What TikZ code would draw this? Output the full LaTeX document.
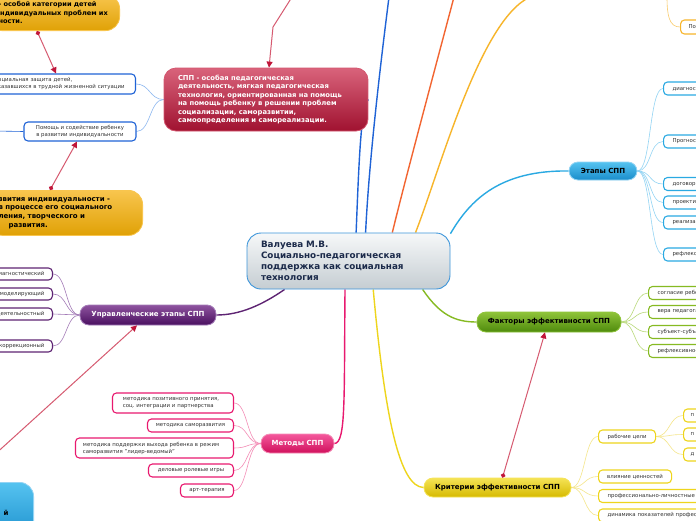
\documentclass[tikz,border=0pt]{standalone}
\usepackage{fontspec}
\setmainfont{DejaVu Sans}
\frenchspacing
\usetikzlibrary{arrows.meta,positioning}
\definecolor{SppNavy}{HTML}{1B2A4A}
\definecolor{SppText}{HTML}{333333}
\definecolor{SppCenTop}{HTML}{F6F8F9}
\definecolor{SppCenBot}{HTML}{C5CDD2}
\definecolor{SppCenBorder}{HTML}{3C95DA}
\definecolor{SppRedTop}{HTML}{D9637B}
\definecolor{SppRedBot}{HTML}{A01230}
\definecolor{SppRedBorder}{HTML}{D4566F}
\definecolor{SppOrTop}{HTML}{F8C54E}
\definecolor{SppOrBot}{HTML}{E0A106}
\definecolor{SppBlueDark}{HTML}{1F63D6}
\definecolor{SppBlueLight}{HTML}{8DB8F0}
\definecolor{SppPurple}{HTML}{5E2473}
\definecolor{SppPurpleTop}{HTML}{8E539F}
\definecolor{SppPurpleBot}{HTML}{4A1060}
\definecolor{SppPurpleLight}{HTML}{A47CB8}
\definecolor{SppPink}{HTML}{E8196F}
\definecolor{SppPinkTop}{HTML}{F4589C}
\definecolor{SppPinkBot}{HTML}{D0105C}
\definecolor{SppPinkLight}{HTML}{F48DB6}
\definecolor{SppYellow}{HTML}{EED51C}
\definecolor{SppYellowTop}{HTML}{F5E356}
\definecolor{SppYellowBot}{HTML}{D6BA00}
\definecolor{SppYellowLight}{HTML}{F5E68A}
\definecolor{SppGreen}{HTML}{86BA22}
\definecolor{SppGreenTop}{HTML}{8FC43A}
\definecolor{SppGreenBot}{HTML}{4E8A0C}
\definecolor{SppGreenLight}{HTML}{B9D97A}
\definecolor{SppSky}{HTML}{2AA9E2}
\definecolor{SppSkyTop}{HTML}{55C3F0}
\definecolor{SppSkyBot}{HTML}{1A8DCB}
\definecolor{SppSkyLight}{HTML}{93D4F4}
\definecolor{SppOrRed}{HTML}{F26531}
\definecolor{SppOrange}{HTML}{F7B52A}
\definecolor{SppRel}{HTML}{D65A70}
\definecolor{SppRelDark}{HTML}{C0163A}
\pgfdeclarelayer{background}
\pgfsetlayers{background,main}
\tikzset{
  spp/central/.style={
    draw=SppCenBorder,
    line width=0.9pt,
    top color=SppCenTop,
    bottom color=SppCenBot,
    rounded corners=14pt,
    minimum width=203pt,
    minimum height=56pt,
    text width=175pt,
    align=left,
    inner sep=0pt,
    text=SppNavy,
    font=\fontsize{8.8}{11}\selectfont\bfseries
  },
  spp/topic/.style={
    rounded corners=9pt,
    align=center,
    inner sep=0pt,
    line width=0.8pt,
    font=\fontsize{7}{8.5}\selectfont\bfseries
  },
  spp/orange/.style={
    spp/topic,
    draw=SppOrTop,
    top color=SppOrTop,
    bottom color=SppOrBot,
    rounded corners=14pt,
    align=left,
    text=black,
    font=\fontsize{7}{8.7}\selectfont\bfseries
  },
  spp/leaf/.style={
    draw,
    fill=white,
    rounded corners=4pt,
    line width=1.1pt,
    inner sep=0pt,
    minimum height=13pt,
    text=SppText,
    font=\fontsize{5.4}{7}\selectfont
  },
  spp/link/.style={line width=0.6pt},
  spp/branch/.style={line width=1.4pt},
  spp/rel/.style={draw=SppRel, line width=1pt,
    {Circle[length=4.5pt,fill=SppRelDark,color=SppRelDark]}-{Triangle[length=6pt,width=6pt,fill=SppRelDark,color=SppRelDark]}},
  spp/relhead/.style={draw=SppRel, line width=1pt,
    -{Triangle[length=6pt,width=6pt,fill=SppRelDark,color=SppRelDark]}}
}
\begin{document}
\begin{tikzpicture}[x=1pt,y=-1pt]
  \useasboundingbox (0,0) rectangle (696,520);
  \clip (0,0) rectangle (696,520);

  % central topic
  \node[spp/central] (cen) at (348.5,261) {Валуева М.В.\\Социально-педагогическая\\поддержка как социальная\\технология};

  % definition block
  \node[spp/topic, draw=SppRedBorder, top color=SppRedTop, bottom color=SppRedBot, text=white,
    rounded corners=12pt, minimum width=204pt, minimum height=63pt, text width=176pt, align=left,
    font=\fontsize{6.8}{8.4}\selectfont\bfseries] (def) at (266,99.5)
    {СПП - особая педагогическая\\деятельность, мягкая педагогическая\\технология, ориентированная на помощь\\на помощь ребенку в решении проблем\\социализации, саморазвитии,\\самоопределения и самореализации.};
  \node[spp/orange, anchor=south east, minimum width=132pt, minimum height=36pt,
    text width=116pt, inner xsep=8pt, font=\fontsize{6.6}{8.5}\selectfont\bfseries] (goal) at (120,31)
    {\hspace*{3pt}- особой категории детей\\индивидуальных проблем их\\\hspace*{3pt}ности.};
  \node[spp/orange, anchor=north east, minimum width=154pt, minimum height=45pt,
    text width=134pt, inner xsep=10pt] (indiv) at (143,190)
    {звития индивидуальности -\\в процессе его социального\\ления, творческого и\\\hspace*{10pt}развития.};
  \node[spp/leaf, draw=SppBlueDark, anchor=east, minimum height=20pt, text width=138pt,
    align=left, inner xsep=3pt] (soc) at (136,84)
    {Социальная защита детей,\\оказавшихся в трудной жизненной ситуации};
  \node[spp/leaf, draw=SppBlueDark, minimum width=112pt, minimum height=19pt, align=center] (pom) at (80,131.5)
    {Помощь и содействие ребенку\\в развитии индивидуальности};

  % management stages
  \node[spp/topic, draw=SppPurpleLight, top color=SppPurpleTop, bottom color=SppPurpleBot, text=white,
    minimum width=136pt, minimum height=20pt] (upr) at (148,315) {Управленческие этапы СПП};
  \foreach \yy/\txt [count=\i] in {274/диагностический, 294/моделирующий, 314/деятельностный, 346/коррекционный}
    \node[spp/leaf, draw=SppPurple, anchor=east, text width=74pt, align=right, inner xsep=8pt,
      minimum height=12pt] (up\i) at (53,\yy) {\txt};

  % methods
  \node[spp/topic, draw=SppPinkLight, top color=SppPinkTop, bottom color=SppPinkBot, text=white,
    minimum width=73pt, minimum height=19pt] (met) at (297.5,443.5) {Методы СПП};
  \node[spp/leaf, draw=SppPink, anchor=east, minimum height=20pt, text width=100pt, align=left,
    inner xsep=10.5pt] (pm1) at (234,403) {методика позитивного принятия,\\соц. интеграции и партнерства};
  \node[spp/leaf, draw=SppPink, anchor=east, minimum width=86pt] (pm2) at (234,425.5) {методика саморазвития};
  \node[spp/leaf, draw=SppPink, anchor=east, minimum height=20pt, text width=143pt, align=left,
    inner xsep=7.5pt] (pm3) at (234,448) {методика поддержки выхода ребенка в режим\\саморазвития "лидер-ведомый"};
  \node[spp/leaf, draw=SppPink, anchor=east, minimum width=85pt] (pm4) at (234,470.5) {деловые ролевые игры};
  \node[spp/leaf, draw=SppPink, anchor=east, minimum width=53pt] (pm5) at (234,490.5) {арт-терапия};

  % stages
  \node[spp/topic, draw=SppSkyLight, top color=SppSkyTop, bottom color=SppSkyBot, text=black,
    minimum width=68pt, minimum height=18pt] (etap) at (603,171) {Этапы СПП};
  \foreach \yy/\txt [count=\i] in {88.5/диагностический, 141.5/Прогностический, 184/договорный,
      202.5/проектировочный, 222.5/реализационный, 254.5/рефлексивный}
    \node[spp/leaf, draw=SppSky, anchor=west, text width=100pt, align=left, inner xsep=9pt] (et\i) at (663,\yy) {\txt};
  \node[spp/leaf, draw=SppOrange, anchor=west, text width=40pt, align=left, inner xsep=8pt,
    minimum height=14pt] (po) at (680,27) {По};

  % factors
  \node[spp/topic, draw=SppGreenTop, top color=SppGreenTop, bottom color=SppGreenBot, text=black,
    minimum width=144pt, minimum height=20pt] (fak) at (549,322) {Факторы эффективности СПП};
  \foreach \yy/\txt [count=\i] in {293/согласие ребенка, 312/вера педагога, 332/субъект-субъектные, 351/рефлексивно-}
    \node[spp/leaf, draw=SppGreen, anchor=west, text width=100pt, align=left, inner xsep=9pt] (fk\i) at (648,\yy) {\txt};

  % criteria
  \node[spp/topic, draw=SppYellowTop, top color=SppYellowTop, bottom color=SppYellowBot, text=black,
    minimum width=147pt, minimum height=19pt] (krit) at (497.5,487.5) {Критерии эффективности СПП};
  \node[spp/leaf, draw=SppYellow, anchor=west, minimum width=57pt] (kr1) at (598,436.5) {рабочие цели};
  \node[spp/leaf, draw=SppYellow, anchor=west, minimum width=73pt] (kr2) at (598,476.5) {влияние ценностей};
  \node[spp/leaf, draw=SppYellow, anchor=west, text width=130pt, align=left, inner xsep=9pt] (kr3) at (598,496)
    {профессионально-личностные};
  \node[spp/leaf, draw=SppYellow, anchor=west, text width=130pt, align=left, inner xsep=9pt] (kr4) at (598,515.5)
    {динамика показателей профессионализма};
  \foreach \yy/\txt [count=\i] in {415.5/п, 434.5/п, 454.5/д}
    \node[spp/leaf, draw=SppYellow, anchor=west, text width=30pt, align=left, inner xsep=7pt] (kc\i) at (683,\yy) {\txt};

  % cut block bottom left
  \node[spp/topic, draw=SppSkyLight, top color=SppSkyTop, bottom color=SppSkyBot, text=black,
    rounded corners=14pt, anchor=north east, minimum width=70pt, minimum height=60pt,
    text width=20pt, align=right, inner xsep=25pt] (bl) at (34,482) {й};

  \coordinate (topB) at (389,-3);
  \coordinate (topC) at (454,-3);
  \coordinate (topD) at (530,-3);
  \coordinate (topE) at (667,-3);
  \coordinate (leftA) at (-5,131);
  \coordinate (relA) at (292,-3);
  \coordinate (relB) at (273,27);
  \coordinate (relC) at (-8,457);

  \begin{pgfonlayer}{background}
    \fill[white] (0,0) rectangle (696,520);
    % main branches
    \draw[spp/branch, draw=SppBlueDark] (cen.75) .. controls (359,160) and (361,105) .. (def.east);
    \draw[spp/branch, draw=SppBlueDark] (cen.59) .. controls (369,160) and (381,60) .. (topB);
    \draw[spp/branch, draw=SppOrRed] (cen.33) .. controls (405,180) and (440,50) .. (topC);
    \draw[spp/branch, draw=SppOrange] (cen.23.5) .. controls (440,170) and (480,20) .. (topD);
    \draw[spp/branch, draw=SppSky] (cen.15) .. controls (470,200) and (500,170) .. (etap.west);
    \draw[spp/branch, draw=SppPurple] (cen.-156) .. controls (262,305) and (240,315) .. (upr.east);
    \draw[spp/branch, draw=SppPink] (cen.-97) .. controls (344,400) and (346,443) .. (met.east);
    \draw[spp/branch, draw=SppYellow] (cen.-49) .. controls (385,420) and (400,487) .. (krit.west);
    \draw[spp/branch, draw=SppGreen] (cen.-21) .. controls (440,315) and (455,322) .. (fak.west);
    % sub branches
    \draw[spp/link, draw=SppBlueLight] (def.west) .. controls +(-14,0) and +(14,0) .. (soc.east);
    \draw[spp/link, draw=SppBlueLight] (def.west) .. controls +(-14,0) and +(14,0) .. (pom.east);
    \draw[spp/link, draw=SppBlueDark] (leftA) -- (pom.west);
    \foreach \i in {1,...,4}
      \draw[spp/link, draw=SppPurpleLight] (upr.west) .. controls +(-14,0) and +(14,0) .. (up\i.east);
    \foreach \i in {1,...,5}
      \draw[spp/link, draw=SppPinkLight] (met.west) .. controls +(-14,0) and +(14,0) .. (pm\i.east);
    \foreach \i in {1,...,6}
      \draw[spp/link, draw=SppSkyLight] (etap.east) .. controls +(14,0) and +(-14,0) .. (et\i.west);
    \foreach \i in {1,...,4}
      \draw[spp/link, draw=SppGreenLight] (fak.east) .. controls +(14,0) and +(-14,0) .. (fk\i.west);
    \foreach \i in {1,...,4}
      \draw[spp/link, draw=SppYellowLight] (krit.east) .. controls +(14,0) and +(-14,0) .. (kr\i.west);
    \foreach \i in {1,2,3}
      \draw[spp/link, draw=SppYellowLight] (kr1.east) .. controls +(14,0) and +(-14,0) .. (kc\i.west);
    \draw[spp/link, draw=SppOrange!70] (topE) .. controls (667,15) and (669,27) .. (po.west);
  \end{pgfonlayer}

  % relations
  \draw[spp/rel] ([xshift=-83pt]goal.south east) -- ([xshift=-80pt]soc.north east);
  \draw[spp/rel] ([xshift=-93pt]indiv.north east) -- ([xshift=-3pt]pom.south);
  \draw[spp/relhead] (relA) -- (relB) -- ([xshift=3pt]def.north);
  \draw[spp/relhead] (relC) -- ([xshift=-11pt]upr.south);
  \draw[spp/rel] ([xshift=5pt]krit.north) -- ([xshift=-4pt]fak.south);
\end{tikzpicture}
\end{document}
